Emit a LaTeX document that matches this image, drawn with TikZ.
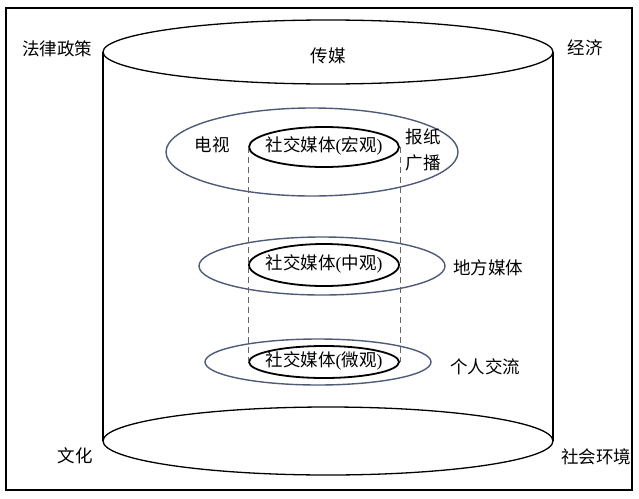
\documentclass[tikz,border=0pt]{standalone}
\usepackage{fontspec}
\setmainfont{Noto Sans CJK SC}
\newfontfamily\serfont{Liberation Serif}
\newcommand{\lpar}{{\serfont(}}
\newcommand{\rpar}{{\serfont)}}
\usetikzlibrary{shapes.geometric}
\definecolor{slate}{HTML}{4F5A78}
\tikzset{
  lbl/.style={font=\fontsize{17.5}{20}\selectfont, inner sep=0pt},
  cyl/.style={line width=1.3pt, black},
  outer/.style={ellipse, draw=slate, line width=1.4pt, inner sep=0pt},
  inner/.style={ellipse, draw=black, line width=1.8pt, inner sep=0pt, minimum width=150pt},
  guide/.style={line width=0.8pt, gray!80!black, dash pattern=on 6pt off 4pt}
}
\begin{document}
\begin{tikzpicture}[x=1pt,y=-1pt]
\useasboundingbox (0,0) rectangle (639,498);
\draw[line width=1.2pt] (6,8) rectangle (632,490);
% cylinder
\draw[cyl] (103,52) -- (103,441);
\draw[cyl] (553,52) -- (553,441);
\draw[cyl, fill=white] (328,52) ellipse [x radius=225pt, y radius=32pt];
\draw[cyl, fill=white] (328,441) ellipse [x radius=225pt, y radius=34pt];
\node[lbl] (media) at (328,56) {传媒};
% outer layer ellipses
\node[outer, minimum width=292pt, minimum height=88pt] (macroO) at (312,152) {};
\node[outer, minimum width=246pt, minimum height=58pt] (mesoO) at (322,266) {};
\node[outer, minimum width=226pt, minimum height=46pt] (microO) at (318,362) {};
% inner ellipses
\node[inner, minimum height=40pt] (macro) at (324,147) {};
\node[inner, minimum height=42pt] (meso) at (324,265) {};
\node[inner, minimum height=32pt] (micro) at (324,362) {};
\node[lbl] (tmacro) at (324,146) {社交媒体\lpar 宏观\rpar};
\node[lbl] (tmeso) at (324,264) {社交媒体\lpar 中观\rpar};
\node[lbl] (tmicro) at (324,361) {社交媒体\lpar 微观\rpar};
% dashed guides
\draw[guide] (macro.west) -- (micro.west);
\draw[guide] (macro.east) -- (micro.east);
% labels
\node[lbl] (tv) at (212,145) {电视};
\node[lbl] (paper) at (423,137) {报纸};
\node[lbl] (radio) at (423,163) {广播};
\node[lbl] (local) at (488,268) {地方媒体};
\node[lbl] (personal) at (485,367) {个人交流};
\node[lbl] (law) at (57,49) {法律政策};
\node[lbl] (econ) at (585,48) {经济};
\node[lbl] (culture) at (75,456) {文化};
\node[lbl] (social) at (596,457) {社会环境};
\end{tikzpicture}
\end{document}
